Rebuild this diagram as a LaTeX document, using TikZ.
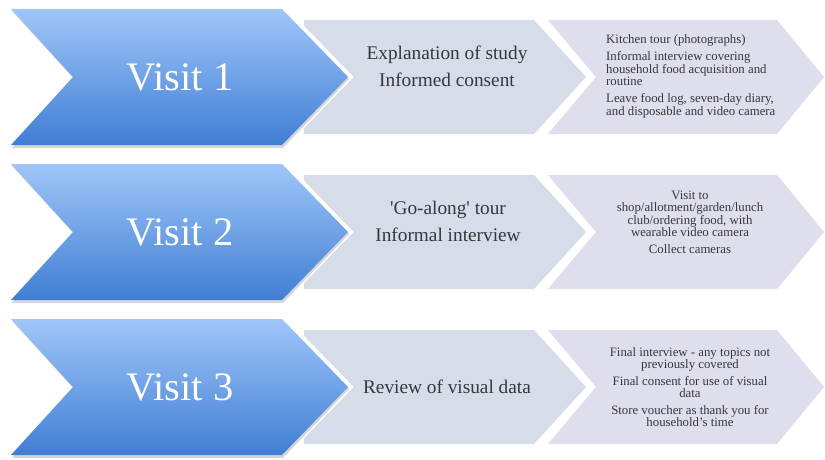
\documentclass[tikz,border=0pt]{standalone}
\usepackage{fontspec}
\setmainfont{Liberation Serif}
\definecolor{bluetop}{RGB}{160,198,248}
\definecolor{bluebot}{RGB}{64,126,212}
\definecolor{midgray}{RGB}{214,220,232}
\definecolor{lavgray}{RGB}{222,222,236}
\definecolor{txtgray}{RGB}{55,55,62}
\tikzset{
  visitglow/.style={draw=white, line width=8pt, line join=miter},
  visitshadow/.style={fill=black, opacity=0.16},
  visitshape/.style={top color=bluetop, bottom color=bluebot},
  midshape/.style={fill=midgray},
  detshape/.style={fill=lavgray},
  visittext/.style={text=white, inner sep=0pt, font=\fontsize{40.5}{40.5}\selectfont},
  midtext/.style={text=txtgray, align=center, inner sep=0pt, font=\fontsize{19.3}{27}\selectfont},
  dettext/.style={text=txtgray, inner sep=0pt, font=\fontsize{12.8}{12.5}\selectfont},
}
\begin{document}
\begin{tikzpicture}[x=1pt,y=-1pt]
\useasboundingbox (0,0) rectangle (825,460);
\fill[white] (0,0) rectangle (825,460);
\foreach \c in {77,232,387}{
  \path[detshape] (548,\c-57) -- (777,\c-57) -- (824,\c) -- (777,\c+57) -- (548,\c+57) -- (596,\c) -- cycle;
  \path[midshape] (304,\c-57) -- (534,\c-57) -- (586,\c) -- (534,\c+57) -- (304,\c+57) -- cycle;
  \path[visitglow] (11,\c-68) -- (282,\c-68) -- (348,\c) -- (282,\c+68) -- (11,\c+68) -- (73,\c) -- cycle;
  \path[visitshadow] (12,\c-66) -- (283,\c-66) -- (349,\c+2) -- (283,\c+71) -- (12,\c+71) -- (74,\c+2) -- cycle;
  \path[visitshape] (11,\c-68) -- (282,\c-68) -- (348,\c) -- (282,\c+68) -- (11,\c+68) -- (73,\c) -- cycle;
}
% Visit labels
\node[visittext] (v1) at (180,77) {Visit 1};
\node[visittext] (v2) at (180,232) {Visit 2};
\node[visittext] (v3) at (180,387) {Visit 3};
% middle texts
\node[midtext] (m1) at (447,66.5) {Explanation of study\\Informed consent};
\node[midtext] (m2) at (448,221.5) {\textquotesingle Go-along\textquotesingle\ tour\\Informal interview};
\node[midtext] (m3) at (447,387) {Review of visual data};
% detail texts
\node[dettext, align=left, anchor=west] (d1) at (606,76.5) {Kitchen tour (photographs)\\[4.5pt]
Informal interview covering\\household food acquisition and\\routine\\[4.5pt]
Leave food log, seven-day diary,\\and disposable and video camera};
\node[dettext, align=center] (d2) at (690,222.5) {Visit to\\shop/allotment/garden/lunch\\club/ordering food, with\\wearable video camera\\[4.5pt]Collect cameras};
\node[dettext, align=center] (d3) at (690,387) {Final interview - any topics not\\previously covered\\[4pt]Final consent for use of visual\\data\\[4pt]Store voucher as thank you for\\household’s time};
\end{tikzpicture}
\end{document}
